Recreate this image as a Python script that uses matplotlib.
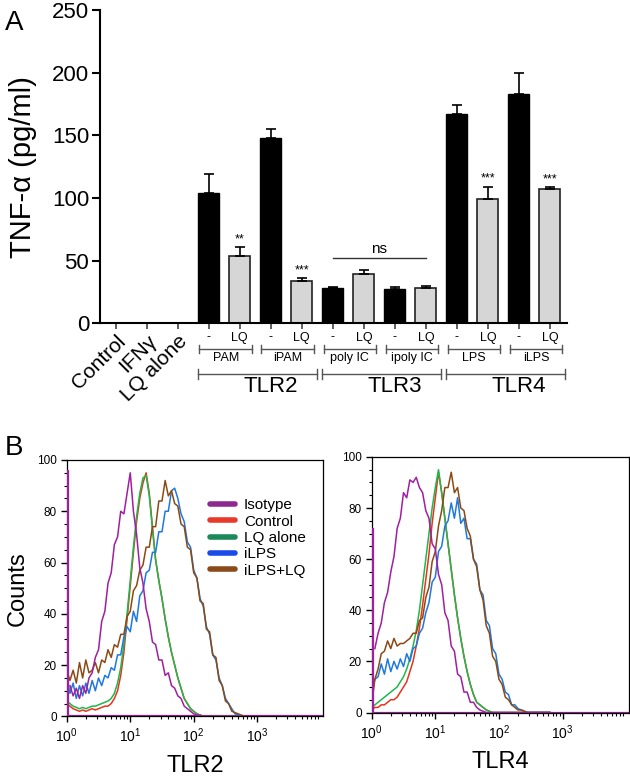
import matplotlib
matplotlib.use('Agg')
import matplotlib.pyplot as plt
import matplotlib.transforms as mtransforms
import numpy as np

plt.rcParams['font.family'] = ['Liberation Sans', 'DejaVu Sans']
plt.rcParams['mathtext.default'] = 'regular'

# ---------------- panel A data ----------------
base_labels = ['Control', 'IFNγ', 'LQ alone']
base_vals = [0.7, 0.2, 0.4]
stimuli = ['PAM', 'iPAM', 'poly IC', 'ipoly IC', 'LPS', 'iLPS']
receptors = ['TLR2', 'TLR3', 'TLR4']
minus_vals = [104, 148, 28, 27, 167, 183]
minus_err = [15, 7, 1, 1.6, 7, 17]
lq_vals = [54, 34, 39, 28, 99, 107]
lq_err = [7, 2, 3.5, 1.8, 10, 1.7]
lq_stars = ['**', '***', '', '', '***', '***']
ns_level = 52

# ---------------- panel B data (flow histograms) ----------------
# channel positions in decades (10^0 .. 10^2.8), 0.05 decade bins
log_pos = np.round(np.arange(0, 2.801, 0.05), 2)
tlr2_isotype = [96, 12, 8, 11, 7, 12, 9, 15, 17, 23, 26, 37, 41, 52, 56, 67, 70, 80, 79, 87,
                95, 80, 71, 58, 52, 42, 37, 29, 28, 22, 22, 16, 17, 12, 11, 8, 7, 4, 3, 2,
                1, 0.5, 0.5] + [0] * 14
tlr2_control = [5, 4, 3, 2.5, 2, 2.5, 2, 2.5, 3, 2.5, 3, 3.5, 4, 4, 5, 7, 10, 16, 25, 38,
                51, 64, 76, 85, 91, 95, 87, 74, 61, 53, 46, 38, 31, 25, 20, 15, 11, 7, 5, 3,
                2, 1, 0.5] + [0] * 14
tlr2_lq = [6, 5, 4, 3.5, 3, 3.5, 3, 3.5, 4, 4, 4.5, 5, 5.5, 6, 7, 9, 13, 19, 28, 40,
           53, 66, 78, 87, 93, 94, 86, 73, 61, 53, 46, 38, 31, 25, 20, 15, 11, 7, 5, 3,
           2, 1, 0.5] + [0] * 14
tlr2_ilps = [15, 9, 13, 7, 12, 8, 13, 9, 14, 10, 15, 12, 16, 15, 19, 18, 24, 24, 31, 35,
             33, 41, 37, 47, 49, 56, 57, 64, 64, 72, 72, 80, 80, 88, 89, 85, 79, 76, 68, 66,
             57, 54, 46, 43, 35, 32, 24, 22, 15, 12, 7, 5, 3, 1, 0.5, 0, 0]
tlr2_ilps_lq = [18, 14, 18, 13, 21, 15, 22, 17, 18, 21, 17, 22, 21, 26, 23, 28, 27, 32, 32, 39,
                41, 49, 51, 57, 59, 66, 66, 74, 74, 84, 84, 92, 86, 88, 83, 82, 75, 74, 66, 65,
                56, 54, 45, 44, 34, 33, 24, 23, 14, 12, 6, 5, 2, 1.5, 1, 0.5, 0]

tlr4_isotype = [72, 25, 31, 35, 43, 47, 55, 61, 72, 76, 86, 84, 91, 90, 92, 88, 86, 79, 76, 66,
                64, 54, 50, 39, 36, 26, 24, 15, 14, 8, 8, 4, 4, 2, 1, 0.5] + [0] * 21
tlr4_control = [1, 2, 2, 3, 3, 4, 5, 5, 6, 8, 10, 12, 16, 20, 26, 33, 42, 52, 62, 74,
                84, 94, 86, 76, 66, 56, 46, 37, 29, 22, 16, 11, 7, 4, 3, 2, 1, 0.5] + [0] * 19
tlr4_lq = [2, 3, 4, 5, 6, 7, 8, 9, 10, 12, 14, 17, 21, 26, 32, 40, 50, 60, 70, 80,
           88, 95, 86, 76, 66, 56, 46, 37, 29, 22, 16, 11, 7, 4, 3, 2, 1, 0.5] + [0] * 19
tlr4_ilps = [8, 13, 14, 19, 15, 21, 16, 20, 17, 21, 18, 23, 20, 25, 26, 31, 33, 39, 43, 51,
             53, 63, 65, 73, 75, 82, 76, 84, 74, 76, 68, 68, 60, 58, 48, 46, 36, 34, 25, 23,
             15, 13, 8, 7, 3, 3, 1.5, 1, 0.5] + [0] * 8
tlr4_ilps_lq = [3, 13, 17, 23, 24, 28, 25, 29, 26, 27, 27, 28, 29, 31, 31, 36, 37, 45, 49, 59,
                63, 73, 79, 88, 88, 94, 86, 88, 80, 79, 72, 69, 60, 57, 48, 44, 34, 31, 22, 20,
                13, 11, 6, 5, 3, 2, 1, 1, 0.5] + [0] * 8

series_names = ['Control', 'LQ alone', 'iLPS', 'iLPS+LQ', 'Isotype']
series_colors = ['#e8321e', '#1fb84a', '#1f78e0', '#8b4a14', '#a01fa0']
legend_order = ['Isotype', 'Control', 'LQ alone', 'iLPS', 'iLPS+LQ']
legend_colors = {'Isotype': '#8e2a8e', 'Control': '#e8392a', 'LQ alone': '#1a8a5a',
                 'iLPS': '#1a4ae8', 'iLPS+LQ': '#8b4a1a'}

fig = plt.figure(figsize=(6.3, 7.77), dpi=100)

# ================= panel A =================
ax = fig.add_axes([0.159, 0.584, 0.741, 0.403])
n_pairs = len(stimuli)
base_x = 0.5 + np.arange(len(base_labels))
minus_x = 3.5 + 2 * np.arange(n_pairs)
lq_x = minus_x + 1
bw = 0.68

ax.bar(base_x, base_vals, width=0.6, color='black')
ekw = dict(lw=1.2, capthick=1.2, ecolor='black')
ax.bar(minus_x, minus_vals, width=bw, color='black', edgecolor='black', lw=1,
       yerr=[np.zeros(n_pairs), minus_err], capsize=3.5, error_kw=ekw)
ax.bar(lq_x, lq_vals, width=bw, color='#d6d6d6', edgecolor='#222222', lw=1.2,
       yerr=[np.zeros(n_pairs), lq_err], capsize=3.5, error_kw=ekw, zorder=2)

for x, v, e, s in zip(lq_x, lq_vals, lq_err, lq_stars):
    if s:
        ax.text(x, v + e + 1.5, s, ha='center', va='bottom', fontsize=9)

ax.plot([minus_x[2], lq_x[3]], [ns_level, ns_level], color='#333333', lw=1)
ax.text((minus_x[2] + lq_x[3]) / 2, ns_level + 1.5, 'ns', ha='center', va='bottom',
        fontsize=11)

ax.set_xlim(0, 15.05)
ax.set_ylim(0, 250)
ax.set_yticks([0, 50, 100, 150, 200, 250])
ax.tick_params(axis='y', labelsize=16, length=6, width=1.5, pad=2)
ax.set_ylabel('TNF-α (pg/ml)', fontsize=21, labelpad=11)

pos = list(base_x)
labs = list(base_labels)
for a, b in zip(minus_x, lq_x):
    pos += [a, b]
    labs += ['-', 'LQ']
ax.set_xticks(pos)
ax.set_xticklabels(labs)
ax.tick_params(axis='x', length=4, width=1.2, pad=2, color='#444444')
for i, t in enumerate(ax.get_xticklabels()):
    if i < len(base_labels):
        t.set_rotation(45)
        t.set_ha('right')
        t.set_va('top')
        t.set_rotation_mode('anchor')
        t.set_fontsize(15)
    else:
        t.set_fontsize(9)

for side in ['top', 'right']:
    ax.spines[side].set_visible(False)
for side in ['left', 'bottom']:
    ax.spines[side].set_linewidth(1.5)

trans = mtransforms.blended_transform_factory(ax.transData, ax.transAxes)


def bracket(x0, x1, y, cap):
    kw = dict(transform=trans, clip_on=False, color='#555555', lw=1)
    ax.plot([x0, x1], [y, y], **kw)
    ax.plot([x0, x0], [y - cap, y + cap], **kw)
    ax.plot([x1, x1], [y - cap, y + cap], **kw)


for i, name in enumerate(stimuli):
    bracket(minus_x[i] - 0.3, lq_x[i] + 0.4, -0.083, 0.012)
    ax.text(minus_x[i] + 0.55, -0.112, name, transform=trans, ha='center', va='center',
            fontsize=9)
for j, name in enumerate(receptors):
    c0 = minus_x[2 * j]
    bracket(c0 - 0.34, c0 + 3.5, -0.163, 0.016)
    ax.text(c0 + 2.0, -0.203, name, transform=trans, ha='center', va='center', fontsize=16)

fig.text(0.008, 0.987, 'A', fontsize=20, va='top')
fig.text(0.008, 0.440, 'B', fontsize=20, va='top')

# ================= panel B =================
tlr2 = [tlr2_control, tlr2_lq, tlr2_ilps, tlr2_ilps_lq, tlr2_isotype]
tlr4 = [tlr4_control, tlr4_lq, tlr4_ilps, tlr4_ilps_lq, tlr4_isotype]
xs = 10 ** log_pos
rects = [[0.106, 0.078, 0.407, 0.330], [0.590, 0.083, 0.408, 0.329]]

for rect, data, label in zip(rects, [tlr2, tlr4], ['TLR2', 'TLR4']):
    bx = fig.add_axes(rect)
    for name, col, ys in zip(series_names, series_colors, data):
        if name == 'Isotype':
            # first channel spike drawn as its own vertical line
            bx.vlines(xs[0] * 1.03, 0, ys[0], color=col, lw=1.6, zorder=4)
            bx.plot(xs[1:], ys[1:], color=col, lw=1.1, label=name)
            bx.axhline(ys[-1], color=col, lw=1.6, zorder=1)
        else:
            bx.plot(xs, ys, color=col, lw=1.1, label=name)
    bx.set_xscale('log')
    bx.set_xlim(1, 10 ** 4.04)
    bx.set_ylim(0, 100)
    bx.set_yticks([0, 20, 40, 60, 80, 100])
    bx.set_yticks(np.arange(0, 101, 5), minor=True)
    bx.set_xticks([1, 10, 100, 1000])
    bx.set_xticklabels(['$10^{0}$', '$10^{1}$', '$10^{2}$', '$10^{3}$'])
    bx.tick_params(axis='both', which='major', labelsize=10, length=4, width=1, top=False,
                   right=False)
    bx.tick_params(axis='both', which='minor', length=2, width=0.8, top=False, right=False)
    bx.tick_params(axis='y', labelsize=8.5, pad=3)
    bx.set_xlabel(label, fontsize=17, labelpad=7)
    for s in bx.spines.values():
        s.set_linewidth(0.9)
    if label == 'TLR2':
        bx.set_ylabel('Counts', fontsize=17, labelpad=6)
        handles = [plt.Line2D([], [], color=legend_colors[n], lw=4, solid_capstyle='round')
                   for n in legend_order]
        bx.legend(handles, legend_order, loc='upper left', bbox_to_anchor=(0.53, 0.88),
                  frameon=False, fontsize=11, handlelength=1.6, handletextpad=0.6,
                  labelspacing=0.15, borderpad=0)

fig.savefig('out.png', dpi=100)
